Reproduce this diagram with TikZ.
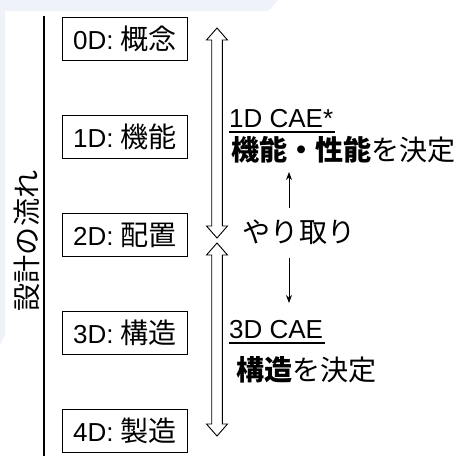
\documentclass[tikz,border=0pt]{standalone}
\usepackage{fontspec}
\setmainfont{Liberation Sans}
\newfontfamily\jp[Scale=1.08]{Noto Sans CJK JP}
\usetikzlibrary{arrows.meta}
\definecolor{bgblue}{HTML}{EFF2F9}
\begin{document}
\begin{tikzpicture}[x=1pt,y=-1pt,
  stage/.style={draw=black,line width=1.1pt,minimum width=125pt,minimum height=43pt,inner sep=0pt,anchor=north west,font=\fontsize{26}{30}\selectfont},
  lbl/.style={inner sep=0pt,font=\fontsize{26}{30}\selectfont},
  dblarrow/.style={draw=black,line width=0.9pt,fill=white},
  smallarrow/.style={-{Stealth[length=8pt,width=6pt]},line width=0.9pt},
  uline/.style={line width=1.1pt}
]
\useasboundingbox (0,0) rectangle (458,456);
\fill[white] (0,0) rectangle (458,456);
\fill[bgblue] (0,0) -- (278,0) -- (268,11) -- (5,11) -- (5,335) -- (0,345) -- cycle;

% vertical flow line and label
\coordinate (ltop) at (44,16);
\coordinate (lbot) at (44,456);
\draw[line width=1.1pt] (ltop) -- (lbot);
\node[lbl,rotate=90] (flow) at (27,241) {\jp 設計の流れ};

% stage boxes
\node[stage] (s0) at (62,17)  {0D: {\jp 概念}};
\node[stage] (s1) at (62,115) {1D: {\jp 機能}};
\node[stage] (s2) at (62,213) {2D: {\jp 配置}};
\node[stage] (s3) at (62,311) {3D: {\jp 構造}};
\node[stage] (s4) at (62,409) {4D: {\jp 製造}};

% double-headed block arrows
\draw[dblarrow] (217,28) -- (227.5,40) -- (222.3,40) -- (222.3,226) -- (227.5,226) -- (217,238)
  -- (206.5,226) -- (211.7,226) -- (211.7,40) -- (206.5,40) -- cycle;
\draw[dblarrow] (217,243) -- (227.5,255) -- (222.3,255) -- (222.3,424) -- (227.5,424) -- (217,436)
  -- (206.5,424) -- (211.7,424) -- (211.7,255) -- (206.5,255) -- cycle;

% 1D CAE
\node[lbl,anchor=base west] (cae1) at (229,127) {1D CAE*};
\draw[uline] ([yshift=-5pt]cae1.base west) -- ([yshift=-5pt,xshift=2pt]cae1.base east);
\node[lbl,anchor=west] (cae1d) at (231,150) {{\jp\bfseries 機能・性能}{\jp を決定}};

% exchange
\node[lbl] (ex) at (299,232) {\jp やり取り};
\coordinate (upfrom) at (289,208);
\coordinate (upto) at (289,172);
\coordinate (dnfrom) at (289,258);
\coordinate (dnto) at (289,303);
\draw[smallarrow] (upfrom) -- (upto);
\draw[smallarrow] (dnfrom) -- (dnto);

% 3D CAE
\node[lbl,anchor=base west] (cae3) at (229,338) {3D CAE};
\draw[uline] ([yshift=-5pt]cae3.base west) -- ([yshift=-5pt,xshift=2pt]cae3.base east);
\node[lbl,anchor=west] (cae3d) at (236,370) {{\jp\bfseries 構造}{\jp を決定}};
\end{tikzpicture}
\end{document}
